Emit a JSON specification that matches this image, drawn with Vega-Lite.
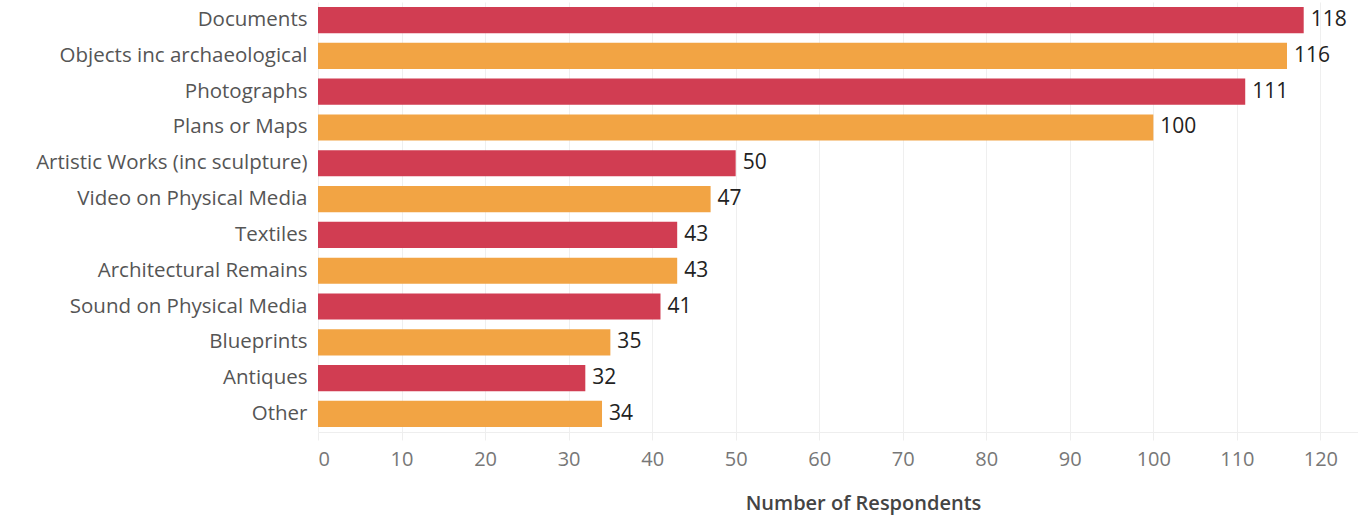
{
  "$schema": "https://vega.github.io/schema/vega-lite/v6.json",
  "width": 1040,
  "height": 430,
  "autosize": "none",
  "padding": {"left": 318, "top": 2, "right": 0, "bottom": 86},
  "background": "white",
  "config": {"view": {"stroke": null}, "font": "Open Sans"},
  "data": {"values": [
    {"category": "Documents", "respondents": 118, "series": "A"},
    {"category": "Objects inc archaeological", "respondents": 116, "series": "B"},
    {"category": "Photographs", "respondents": 111, "series": "A"},
    {"category": "Plans or Maps", "respondents": 100, "series": "B"},
    {"category": "Artistic Works (inc sculpture)", "respondents": 50, "series": "A"},
    {"category": "Video on Physical Media", "respondents": 47, "series": "B"},
    {"category": "Textiles", "respondents": 43, "series": "A"},
    {"category": "Architectural Remains", "respondents": 43, "series": "B"},
    {"category": "Sound on Physical Media", "respondents": 41, "series": "A"},
    {"category": "Blueprints", "respondents": 35, "series": "B"},
    {"category": "Antiques", "respondents": 32, "series": "A"},
    {"category": "Other", "respondents": 34, "series": "B"}
  ]},
  "encoding": {
    "y": {"field": "category", "type": "nominal", "sort": null,
      "scale": {"paddingInner": 0.27, "paddingOuter": 0.14},
      "axis": {"title": null, "domain": false, "ticks": false, "labelFontSize": 20.5, "labelColor": "#555555", "labelPadding": 11, "labelLimit": 400, "labelFont": "Open Sans"}},
    "x": {"field": "respondents", "type": "quantitative",
      "scale": {"domain": [0, 124.5], "nice": false},
      "axis": {"values": [0,10,20,30,40,50,60,70,80,90,100,110,120], "title": "Number of Respondents",
        "titleFontSize": 20, "titleFontWeight": 600, "titleColor": "#444444", "titlePadding": 24, "titleX": 545,
        "labelFontSize": 20, "labelColor": "#777777", "labelPadding": 9, "labelFontWeight": "normal",
        "tickSize": 8, "tickColor": "#eeeeee", "domainColor": "#eeeeee", "gridColor": "#efefef"}}
  },
  "layer": [
    {"mark": {"type": "bar"},
      "encoding": {"color": {"field": "series", "type": "nominal", "legend": null,
        "scale": {"domain": ["A", "B"], "range": ["#D13D52", "#F2A444"]}}}},
    {"mark": {"type": "text", "align": "left", "dx": 7, "fontSize": 21, "color": "#222222", "font": "Open Sans"},
      "encoding": {"text": {"field": "respondents", "type": "quantitative"}}}
  ]
}
